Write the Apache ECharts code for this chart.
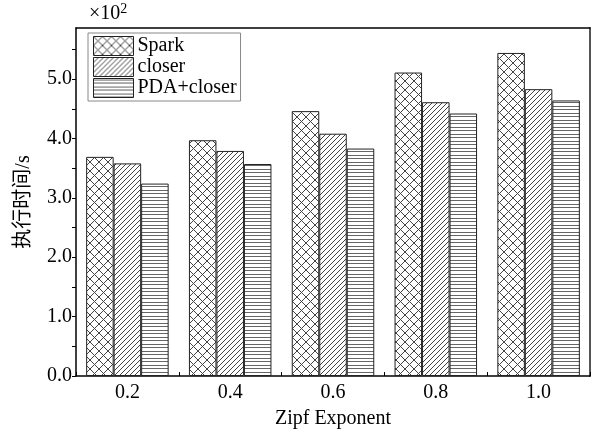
<!DOCTYPE html>
<html><head><meta charset="utf-8">
<script src="https://cdn.jsdelivr.net/npm/echarts@6/dist/echarts.min.js"></script>
<style>html,body{margin:0;padding:0;background:#fff}#c{width:595px;height:434px}</style>
</head><body><div id="c"></div>
<script>
// ---- data ----
const categories = ['0.2', '0.4', '0.6', '0.8', '1.0'];
const seriesNames = ['Spark', 'closer', 'PDA+closer'];
const sparkValues = [3.69, 3.97, 4.46, 5.11, 5.44];
const closerValues = [3.58, 3.79, 4.08, 4.61, 4.83];
const pdaValues = [3.24, 3.57, 3.83, 4.42, 4.64];
const yLabelValues = [0, 1, 2, 3, 4, 5];
const yTickValues = [0, 0.5, 1, 1.5, 2, 2.5, 3, 3.5, 4, 4.5, 5, 5.5];
const yMax = 5.86;

const SERIF = "'Liberation Serif', 'Times New Roman', serif";
const TITLE_FONT = "'Liberation Serif', 'Noto Sans CJK SC', serif";

function makePattern(kind) {
  const c = document.createElement('canvas');
  let w, h;
  if (kind === 'cross') { w = 9; h = 9; }
  else if (kind === 'diag') { w = 5; h = 5; }
  else { w = 4; h = 7; }
  c.width = w; c.height = h;
  const ctx = c.getContext('2d');
  ctx.fillStyle = '#fff';
  ctx.fillRect(0, 0, w, h);
  ctx.strokeStyle = '#444';
  ctx.fillStyle = '#666';
  ctx.lineWidth = 1;
  if (kind === 'cross') {
    ctx.beginPath();
    ctx.moveTo(0, 0); ctx.lineTo(w, h);
    ctx.moveTo(w, 0); ctx.lineTo(0, h);
    ctx.stroke();
  } else if (kind === 'diag') {
    ctx.beginPath();
    for (let k = -1; k <= 1; k++) {
      ctx.moveTo(k * w, h); ctx.lineTo(k * w + w, 0);
    }
    ctx.stroke();
  } else {
    ctx.fillRect(0, 1, w, 1);
    ctx.fillRect(0, 4, w, 1);
  }
  return { image: c, repeat: 'repeat' };
}

const patterns = [makePattern('cross'), makePattern('diag'), makePattern('horiz')];
const allValues = [sparkValues, closerValues, pdaValues];

const chart = echarts.init(document.getElementById('c'), null, { renderer: 'canvas' });

const series = seriesNames.map((name, i) => ({
  name: name,
  type: 'bar',
  xAxisIndex: 0,
  yAxisIndex: 0,
  data: allValues[i],
  barWidth: 27.5,
  barGap: '0%',
  itemStyle: { color: patterns[i], borderColor: '#222', borderWidth: 1 },
  emphasis: { disabled: true }
}));

chart.setOption({
  animation: false,
  backgroundColor: '#fff',
  grid: { left: 76, right: 5, top: 28, bottom: 58, containLabel: false },
  legend: {
    data: seriesNames,
    orient: 'vertical',
    left: 88,
    top: 33,
    padding: [3, 4, 3, 5],
    itemGap: 1,
    itemWidth: 40,
    itemHeight: 19,
    icon: 'rect',
    borderColor: '#888',
    borderWidth: 1,
    backgroundColor: '#fff',
    selectedMode: false,
    itemStyle: { borderWidth: 1, borderColor: '#222' },
    textStyle: { color: '#000', fontSize: 20, fontFamily: SERIF, lineHeight: 20, padding: [0, 0, 0, -1] }
  },
  graphic: [{
    type: 'text',
    left: 89,
    top: 2,
    style: {
      text: '×10{s|2}',
      fill: '#000',
      fontSize: 20,
      fontFamily: SERIF,
      rich: { s: { fontSize: 14, fontFamily: SERIF, padding: [0, 0, 10, 0] } }
    }
  }],
  xAxis: [
    {
      type: 'category',
      data: categories,
      position: 'bottom',
      axisLine: { show: true, lineStyle: { color: '#000', width: 1.5 } },
      axisTick: { show: true, inside: true, alignWithLabel: true, length: 4, lineStyle: { color: '#000' } },
      axisLabel: { color: '#000', fontSize: 20, fontFamily: SERIF, margin: 7 },
      splitLine: { show: false },
      name: 'Zipf Exponent',
      nameLocation: 'middle',
      nameGap: 33,
      nameTextStyle: { color: '#000', fontSize: 20, fontFamily: SERIF }
    },
    {
      type: 'category',
      data: categories,
      position: 'bottom',
      axisLine: { show: false },
      axisTick: { show: true, inside: true, length: 4, lineStyle: { color: '#000' } },
      axisLabel: { show: false },
      splitLine: { show: false }
    },
    {
      type: 'category',
      data: categories,
      position: 'top',
      axisLine: { show: true, lineStyle: { color: '#000', width: 1.5 } },
      axisTick: { show: false },
      axisLabel: { show: false },
      splitLine: { show: false }
    }
  ],
  yAxis: [
    {
      type: 'value',
      min: 0,
      max: yMax,
      position: 'left',
      axisLine: { show: true, lineStyle: { color: '#000', width: 1.5 } },
      axisTick: { show: true, length: 4, customValues: yTickValues, lineStyle: { color: '#000' } },
      axisLabel: { customValues: yLabelValues, formatter: v => Number(v).toFixed(1), color: '#000', fontSize: 20, fontFamily: SERIF, margin: 4 },
      splitLine: { show: false },
      name: '执行时间/s',
      nameLocation: 'middle',
      nameGap: 42,
      nameTextStyle: { color: '#000', fontSize: 20, fontFamily: TITLE_FONT }
    },
    {
      type: 'value',
      min: 0,
      max: yMax,
      position: 'right',
      axisLine: { show: true, lineStyle: { color: '#555', width: 2 } },
      axisTick: { show: false },
      axisLabel: { show: false },
      splitLine: { show: false }
    }
  ],
  series: series
});
</script>
</body></html>
